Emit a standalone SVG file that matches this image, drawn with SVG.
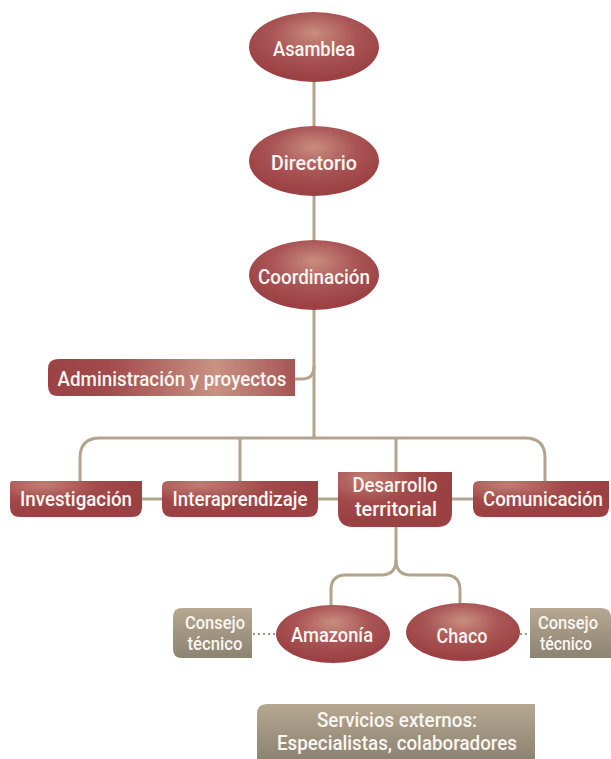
<svg xmlns="http://www.w3.org/2000/svg" width="611" height="759" viewBox="0 0 611 759">
<defs>
<radialGradient id="gEll" cx="0.5" cy="0.35" r="0.6" fx="0.5" fy="0.3">
<stop offset="0" stop-color="#c98d7f"/>
<stop offset="0.55" stop-color="#a95455"/>
<stop offset="1" stop-color="#9b4144"/>
</radialGradient>
<radialGradient id="gBox" cx="0.25" cy="0.15" r="0.7" fx="0.25" fy="0.1">
<stop offset="0" stop-color="#c07e74"/>
<stop offset="0.6" stop-color="#a24a4b"/>
<stop offset="1" stop-color="#9b4144"/>
</radialGradient>
<linearGradient id="gAdm" x1="0" y1="0" x2="1" y2="0">
<stop offset="0" stop-color="#9c4244"/>
<stop offset="0.25" stop-color="#a24b4c"/>
<stop offset="0.68" stop-color="#c99283"/>
<stop offset="1" stop-color="#a65454"/>
</linearGradient>
<linearGradient id="gGray" x1="0" y1="0" x2="0" y2="1">
<stop offset="0" stop-color="#b6a892"/>
<stop offset="1" stop-color="#8c8371"/>
</linearGradient>
</defs>
<style>
.ln{fill:none;stroke:#b3a48e;stroke-width:3}
.dot{fill:none;stroke:#a09582;stroke-width:2;stroke-dasharray:2 3}
.t{font-family:Roboto,"Liberation Sans",sans-serif;font-weight:500;fill:#fbf6f1;text-anchor:middle}
.big{font-size:21px}
.mid{font-size:20px}
.sm{font-size:18px}
</style>
<g id="connectors">
<path class="ln" d="M314 60 V438"/>
<path class="ln" d="M295 379 H302 Q314 379 314 366"/>
<path class="ln" d="M80 482 V458 Q80 438 100 438 H525 Q545 438 545 458 V482"/>
<path class="ln" d="M240 438 V482"/>
<path class="ln" d="M396 438 V473"/>
<path class="ln" d="M141 499 H163"/>
<path class="ln" d="M317 499 H339"/>
<path class="ln" d="M451 499 H474"/>
<path class="ln" d="M396 526 V560 Q396 575 381 575 H346 Q331 575 331 590 V607"/>
<path class="ln" d="M396 560 Q396 575 411 575 H445 Q460 575 460 590 V605"/>
<path class="dot" d="M253 634 H277"/>
<path class="dot" d="M520 634 H530"/>
</g>
<g id="asamblea">
<ellipse cx="314" cy="47" rx="65" ry="35" fill="url(#gEll)"/>
<text class="t big" x="314" y="56" textLength="82" lengthAdjust="spacingAndGlyphs">Asamblea</text>
</g>
<g id="directorio">
<ellipse cx="314" cy="161" rx="65" ry="35" fill="url(#gEll)"/>
<text class="t big" x="314" y="170" textLength="86" lengthAdjust="spacingAndGlyphs">Directorio</text>
</g>
<g id="coordinacion">
<ellipse cx="314" cy="275" rx="65" ry="35" fill="url(#gEll)"/>
<text class="t big" x="314" y="284" textLength="112" lengthAdjust="spacingAndGlyphs">Coordinación</text>
</g>
<g id="administracion">
<path d="M58 359 H295 V396 H58 Q48 396 48 386 V369 Q48 359 58 359 Z" fill="url(#gAdm)"/>
<text class="t mid" x="172" y="386" textLength="229" lengthAdjust="spacingAndGlyphs">Administración y proyectos</text>
</g>
<g id="investigacion">
<path d="M13 481 H142 V507 Q142 517 132 517 H20 Q10 517 10 507 V484 Q10 481 13 481 Z" fill="url(#gBox)"/>
<text class="t mid" x="76" y="506" textLength="112" lengthAdjust="spacingAndGlyphs">Investigación</text>
</g>
<g id="interaprendizaje">
<path d="M168 481 H318 V507 Q318 517 308 517 H172 Q162 517 162 507 V487 Q162 481 168 481 Z" fill="url(#gBox)"/>
<text class="t mid" x="240" y="506" textLength="135" lengthAdjust="spacingAndGlyphs">Interaprendizaje</text>
</g>
<g id="desarrollo">
<path d="M338 472 H452 V512 Q452 527 437 527 H353 Q338 527 338 512 Z" fill="url(#gBox)"/>
<text class="t mid" x="395" y="492" textLength="85" lengthAdjust="spacingAndGlyphs">Desarrollo</text>
<text class="t mid" x="396" y="516" textLength="82" lengthAdjust="spacingAndGlyphs">territorial</text>
</g>
<g id="comunicacion">
<path d="M479 481 H609 V507 Q609 517 599 517 H483 Q473 517 473 507 V487 Q473 481 479 481 Z" fill="url(#gBox)"/>
<text class="t mid" x="543" y="506" textLength="120" lengthAdjust="spacingAndGlyphs">Comunicación</text>
</g>
<g id="amazonia">
<ellipse cx="333" cy="634" rx="57" ry="29" fill="url(#gEll)"/>
<text class="t mid" x="332" y="642" textLength="82" lengthAdjust="spacingAndGlyphs">Amazonía</text>
</g>
<g id="chaco">
<ellipse cx="463" cy="632" rx="57" ry="29" fill="url(#gEll)"/>
<text class="t mid" x="462" y="643" textLength="51" lengthAdjust="spacingAndGlyphs">Chaco</text>
</g>
<g id="consejo-izq">
<path d="M182 608 H252 V658 H182 Q173 658 173 649 V617 Q173 608 182 608 Z" fill="url(#gGray)"/>
<text class="t sm" x="215" y="629" textLength="60" lengthAdjust="spacingAndGlyphs">Consejo</text>
<text class="t sm" x="215" y="650" textLength="55" lengthAdjust="spacingAndGlyphs">técnico</text>
</g>
<g id="consejo-der">
<path d="M530 608 H601 Q611 608 611 618 V658 H530 Z" fill="url(#gGray)"/>
<text class="t sm" x="568" y="629" textLength="60" lengthAdjust="spacingAndGlyphs">Consejo</text>
<text class="t sm" x="566" y="650" textLength="52" lengthAdjust="spacingAndGlyphs">técnico</text>
</g>
<g id="servicios">
<path d="M267 704 H535 V759 H257 V714 Q257 704 267 704 Z" fill="url(#gGray)"/>
<text class="t mid" x="397" y="727" textLength="160" lengthAdjust="spacingAndGlyphs">Servicios externos:</text>
<text class="t mid" x="397" y="750" textLength="240" lengthAdjust="spacingAndGlyphs">Especialistas, colaboradores</text>
</g>
</svg>
